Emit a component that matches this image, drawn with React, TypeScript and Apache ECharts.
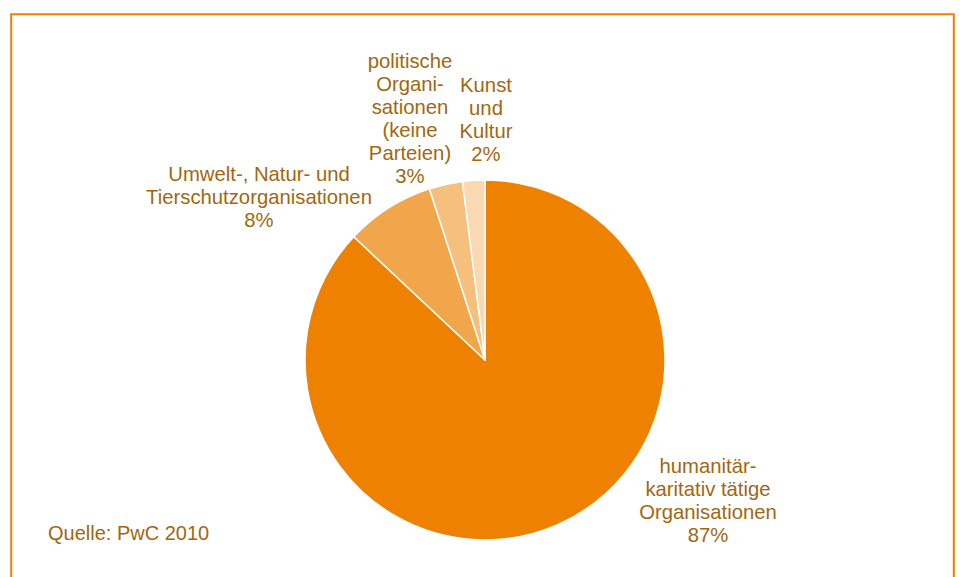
import React, { useEffect, useRef } from "react";
import * as echarts from "echarts";

const categories = [
  "humanitär-\nkaritativ tätige\nOrganisationen",
  "Umwelt-, Natur- und\nTierschutzorganisationen",
  "politische\nOrgani-\nsationen\n(keine\nParteien)",
  "Kunst\nund\nKultur",
];
const values = [87, 8, 3, 2];
const colors = ["#EE8100", "#F2A64B", "#F5C07E", "#F9D9B2"];
const labelPos: [number, number][] = [
  [708, 500],
  [259, 197],
  [410, 118],
  [486, 119],
];
const sourceText = "Quelle: PwC 2010";

const TEXT_COLOR = "#A2670F";
const FONT = "Arial, 'Liberation Sans', Helvetica, sans-serif";

export default function App() {
  const ref = useRef<HTMLDivElement>(null);
  useEffect(() => {
    document.body.style.margin = "0";
    const chart = echarts.init(ref.current!, null, { renderer: "svg" });
    chart.setOption({
      animation: false,
      backgroundColor: "#ffffff",
      graphic: [
        {
          type: "rect",
          shape: { x: 11.2, y: 14.2, width: 942.6, height: 620 },
          style: { fill: "none", stroke: "#EE8100", lineWidth: 2 },
          silent: true,
        },
        {
          type: "text",
          x: 48,
          y: 533,
          style: {
            text: sourceText,
            fill: TEXT_COLOR,
            font: `20px ${FONT}`,
            verticalAlign: "middle",
            align: "left",
          },
        },
      ],
      series: [
        {
          type: "pie",
          center: [485, 360],
          radius: [0, 180],
          startAngle: 90,
          clockwise: true,
          avoidLabelOverlap: false,
          itemStyle: { borderColor: "#ffffff", borderWidth: 1.5 },
          label: {
            show: true,
            position: "outside",
            formatter: "{b}\n{c}%",
            color: TEXT_COLOR,
            fontFamily: FONT,
            fontSize: 20.3,
            lineHeight: 23,
            align: "center",
          },
          labelLine: { show: false },
          labelLayout: (params: any) => {
            const p = labelPos[params.dataIndex];
            return { x: p[0], y: p[1], align: "center", verticalAlign: "middle" };
          },
          emphasis: { disabled: true },
          data: categories.map((name, i) => ({
            name,
            value: values[i],
            itemStyle: { color: colors[i] },
          })),
        },
      ],
    });
    return () => chart.dispose();
  }, []);
  return <div ref={ref} style={{ width: 960, height: 577 }} />;
}
